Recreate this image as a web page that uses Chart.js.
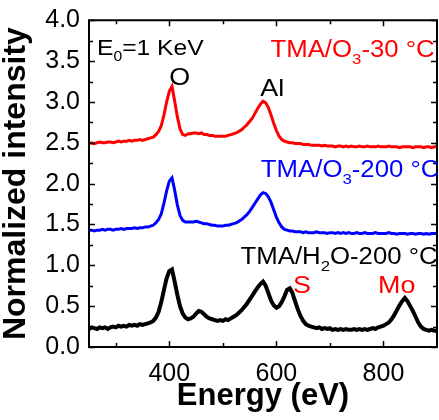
<!DOCTYPE html>
<html lang="en">
    <head>
        <meta charset="UTF-8" />
        <title>AES spectra</title>
        <script src="https://cdn.jsdelivr.net/npm/chart.js@4"></script>
        <style>
            html, body {
                margin: 0;
                padding: 0;
                background: #fff;
            }
            #chart {
                width: 439px;
                height: 420px;
            }
        </style>
    </head>
    <body>
        <div id="chart">
            <canvas id="myChart" width="439" height="420"></canvas>
        </div>
        <script>
            // Energy grid (eV)
            const energy = [
                250, 255, 260, 265, 270, 275, 280, 285, 290, 295,
                300, 305, 310, 315, 320, 325, 330, 335, 340, 345,
                350, 355, 360, 365, 370, 375, 380, 385, 390, 395,
                400, 405, 410, 415, 420, 425, 430, 435, 440, 445,
                450, 455, 460, 465, 470, 475, 480, 485, 490, 495,
                500, 505, 510, 515, 520, 525, 530, 535, 540, 545,
                550, 555, 560, 565, 570, 575, 580, 585, 590, 595,
                600, 605, 610, 615, 620, 625, 630, 635, 640, 645,
                650, 655, 660, 665, 670, 675, 680, 685, 690, 695,
                700, 705, 710, 715, 720, 725, 730, 735, 740, 745,
                750, 755, 760, 765, 770, 775, 780, 785, 790, 795,
                800, 805, 810, 815, 820, 825, 830, 835, 840, 845,
                850, 855, 860, 865, 870, 875, 880, 885, 890, 895,
                900,
            ];

            // TMA/O3-30 °C
            const o3Low = [
                2.49, 2.50, 2.49, 2.50, 2.51, 2.50, 2.50, 2.51, 2.51, 2.50,
                2.51, 2.52, 2.51, 2.52, 2.52, 2.53, 2.52, 2.53, 2.53, 2.54,
                2.53, 2.54, 2.55, 2.56, 2.57, 2.60, 2.64, 2.71, 2.84, 3.00,
                3.13, 3.19, 3.01, 2.82, 2.67, 2.60, 2.59, 2.61, 2.61, 2.62,
                2.62, 2.61, 2.62, 2.60, 2.60, 2.59, 2.59, 2.58, 2.58, 2.58,
                2.58, 2.58, 2.59, 2.60, 2.61, 2.62, 2.64, 2.66, 2.69, 2.72,
                2.76, 2.80, 2.86, 2.92, 2.97, 3.01, 2.99, 2.93, 2.84, 2.74,
                2.65, 2.58, 2.54, 2.52, 2.51, 2.50, 2.50, 2.49, 2.49, 2.49,
                2.48, 2.48, 2.48, 2.47, 2.47, 2.47, 2.47, 2.46, 2.47, 2.46,
                2.46, 2.46, 2.45, 2.46, 2.46, 2.45, 2.46, 2.45, 2.46, 2.45,
                2.45, 2.46, 2.45, 2.45, 2.46, 2.45, 2.45, 2.45, 2.46, 2.45,
                2.45, 2.45, 2.46, 2.45, 2.45, 2.45, 2.44, 2.45, 2.45, 2.45,
                2.45, 2.44, 2.45, 2.45, 2.45, 2.44, 2.45, 2.45, 2.44, 2.45,
                2.45,
            ];

            // TMA/O3-200 °C
            const o3High = [
                1.43, 1.43, 1.42, 1.43, 1.43, 1.44, 1.43, 1.44, 1.44, 1.43,
                1.44, 1.44, 1.45, 1.44, 1.45, 1.45, 1.45, 1.46, 1.45, 1.46,
                1.46, 1.47, 1.47, 1.48, 1.49, 1.52, 1.56, 1.63, 1.76, 1.91,
                2.03, 2.07, 1.92, 1.74, 1.61, 1.55, 1.53, 1.53, 1.53, 1.53,
                1.54, 1.53, 1.52, 1.51, 1.51, 1.50, 1.49, 1.49, 1.48, 1.48,
                1.48, 1.49, 1.49, 1.50, 1.51, 1.52, 1.54, 1.56, 1.59, 1.62,
                1.66, 1.71, 1.76, 1.81, 1.86, 1.89, 1.88, 1.84, 1.77, 1.68,
                1.59, 1.52, 1.47, 1.44, 1.43, 1.42, 1.42, 1.41, 1.41, 1.41,
                1.40, 1.41, 1.40, 1.40, 1.40, 1.41, 1.40, 1.40, 1.40, 1.39,
                1.40, 1.40, 1.39, 1.40, 1.39, 1.40, 1.39, 1.40, 1.39, 1.39,
                1.40, 1.39, 1.39, 1.40, 1.39, 1.39, 1.39, 1.40, 1.39, 1.39,
                1.39, 1.39, 1.40, 1.39, 1.39, 1.38, 1.39, 1.39, 1.39, 1.38,
                1.39, 1.39, 1.38, 1.39, 1.39, 1.38, 1.39, 1.38, 1.39, 1.39,
                1.39,
            ];

            // TMA/H2O-200 °C
            const h2o = [
                0.22, 0.24, 0.23, 0.22, 0.24, 0.23, 0.24, 0.22, 0.24, 0.25,
                0.24, 0.26, 0.25, 0.26, 0.25, 0.27, 0.26, 0.27, 0.26, 0.28,
                0.27, 0.28, 0.29, 0.30, 0.32, 0.36, 0.43, 0.55, 0.70, 0.84,
                0.93, 0.95, 0.80, 0.64, 0.50, 0.41, 0.36, 0.34, 0.35, 0.37,
                0.41, 0.44, 0.43, 0.40, 0.37, 0.35, 0.34, 0.33, 0.32, 0.33,
                0.32, 0.34, 0.33, 0.35, 0.37, 0.39, 0.42, 0.45, 0.49, 0.53,
                0.58, 0.63, 0.68, 0.73, 0.77, 0.80, 0.75, 0.66, 0.57, 0.51,
                0.48, 0.50, 0.55, 0.62, 0.70, 0.72, 0.66, 0.56, 0.46, 0.38,
                0.32, 0.28, 0.26, 0.25, 0.24, 0.23, 0.24, 0.22, 0.23, 0.22,
                0.23, 0.21, 0.22, 0.21, 0.22, 0.21, 0.22, 0.21, 0.21, 0.22,
                0.21, 0.22, 0.21, 0.22, 0.21, 0.22, 0.23, 0.22, 0.24, 0.25,
                0.26, 0.28, 0.30, 0.34, 0.39, 0.45, 0.51, 0.56, 0.60, 0.56,
                0.50, 0.44, 0.37, 0.30, 0.25, 0.22, 0.21, 0.20, 0.21, 0.20,
                0.20,
            ];

            // Axis ticks
            const xTicks = [300, 400, 500, 600, 700, 800];
            const xLabelled = [400, 600, 800];
            const yMinorTicks = [0.25, 0.75, 1.25, 1.75, 2.25, 2.75, 3.25, 3.75];

            const FONT = "'Liberation Sans', Arial, sans-serif";

            const toPoints = (ys) => energy.map((e, i) => ({ x: e, y: ys[i] }));

            // Frame with inward ticks on all four sides
            const framePlugin = {
                id: "frame",
                afterDatasetsDraw(chart) {
                    const { ctx, chartArea: a, scales } = chart;
                    const x = scales.x;
                    const y = scales.y;
                    ctx.save();
                    ctx.strokeStyle = "#000";
                    ctx.lineWidth = 2;
                    ctx.strokeRect(a.left, a.top, a.right - a.left, a.bottom - a.top);
                    ctx.beginPath();
                    xTicks.forEach((v) => {
                        const px = Math.round(x.getPixelForValue(v)) + 0.5;
                        const len = xLabelled.includes(v) ? 6 : 4;
                        ctx.moveTo(px, a.bottom);
                        ctx.lineTo(px, a.bottom - len);
                        ctx.moveTo(px, a.top);
                        ctx.lineTo(px, a.top + len);
                    });
                    const yAll = y.ticks.map((t) => t.value).concat(yMinorTicks);
                    yAll.forEach((v) => {
                        const py = Math.round(y.getPixelForValue(v)) + 0.5;
                        const len = yMinorTicks.includes(v) ? 4 : 6;
                        ctx.moveTo(a.left, py);
                        ctx.lineTo(a.left + len, py);
                        ctx.moveTo(a.right, py);
                        ctx.lineTo(a.right - len, py);
                    });
                    ctx.lineWidth = 1.5;
                    ctx.stroke();
                    ctx.restore();
                },
            };

            // Draws text with optional subscript parts, slightly stretched
            function drawRich(ctx, parts, px, py, size, color) {
                ctx.save();
                ctx.translate(px, py);
                ctx.scale(1.12, 1);
                ctx.fillStyle = color;
                ctx.textBaseline = "alphabetic";
                ctx.textAlign = "left";
                let cx = 0;
                parts.forEach((p) => {
                    const s = p.sub ? Math.round(size * 0.65) : size;
                    ctx.font = s + "px " + FONT;
                    ctx.fillText(p.t, cx, p.sub ? size * 0.3 : 0);
                    cx += ctx.measureText(p.t).width;
                });
                ctx.restore();
            }

            // Text labels placed in data coordinates
            const labels = [
                { x: 265, y: 3.58, size: 22, color: "#000", parts: [{ t: "E" }, { t: "0", sub: true }, { t: "=1 KeV" }] },
                { x: 400, y: 3.21, size: 24, color: "#000", parts: [{ t: "O" }] },
                { x: 570, y: 3.07, size: 24, color: "#000", parts: [{ t: "Al" }] },
                { x: 589, y: 3.55, size: 23, color: "#ff0000", parts: [{ t: "TMA/O" }, { t: "3", sub: true }, { t: "-30 °C" }] },
                { x: 571, y: 2.08, size: 23, color: "#0000ff", parts: [{ t: "TMA/O" }, { t: "3", sub: true }, { t: "-200 °C" }] },
                { x: 533, y: 1.01, size: 23, color: "#000", parts: [{ t: "TMA/H" }, { t: "2", sub: true }, { t: "O-200 °C" }] },
                { x: 631, y: 0.66, size: 24, color: "#ff0000", parts: [{ t: "S" }] },
                { x: 790, y: 0.66, size: 24, color: "#ff0000", parts: [{ t: "Mo" }] },
            ];

            const labelPlugin = {
                id: "labels",
                afterDraw(chart) {
                    const { ctx, scales } = chart;
                    labels.forEach((l) => {
                        drawRich(
                            ctx,
                            l.parts,
                            scales.x.getPixelForValue(l.x),
                            scales.y.getPixelForValue(l.y),
                            l.size,
                            l.color
                        );
                    });
                },
            };

            const ctx = document.getElementById("myChart").getContext("2d");
            const data = {
                datasets: [
                    {
                        label: "TMA/O3-30 °C",
                        data: toPoints(o3Low),
                        borderColor: "#ff0000",
                        borderWidth: 3,
                    },
                    {
                        label: "TMA/O3-200 °C",
                        data: toPoints(o3High),
                        borderColor: "#0000ff",
                        borderWidth: 3,
                    },
                    {
                        label: "TMA/H2O-200 °C",
                        data: toPoints(h2o),
                        borderColor: "#000000",
                        borderWidth: 4,
                    },
                ],
            };
            const config = {
                type: "line",
                data: data,
                options: {
                    responsive: false,
                    animation: false,
                    devicePixelRatio: 1,
                    layout: {
                        padding: { top: 12, right: 2, left: 0, bottom: 0 },
                    },
                    elements: {
                        point: { radius: 0 },
                        line: { tension: 0, fill: false },
                    },
                    plugins: {
                        legend: { display: false },
                        tooltip: { enabled: false },
                    },
                    scales: {
                        x: {
                            type: "linear",
                            min: 250,
                            max: 900,
                            grid: { display: false, drawTicks: false },
                            border: { display: false },
                            afterBuildTicks: (scale) => {
                                scale.ticks = xTicks.map((v) => ({ value: v }));
                            },
                            afterFit: (scale) => {
                                scale.height = 73;
                            },
                            ticks: {
                                autoSkip: false,
                                maxRotation: 0,
                                padding: 15,
                                color: "#000",
                                font: { family: FONT, size: 25, lineHeight: 1 },
                                callback: (v) => (xLabelled.includes(v) ? String(v) : ""),
                            },
                            title: {
                                display: true,
                                text: "Energy (eV)",
                                color: "#000",
                                font: { family: FONT, size: 31, weight: "bold", lineHeight: 1 },
                                padding: { top: 0, bottom: 8 },
                            },
                        },
                        y: {
                            type: "linear",
                            min: 0,
                            max: 4,
                            grid: { display: false, drawTicks: false },
                            border: { display: false },
                            afterFit: (scale) => {
                                scale.width = 89;
                            },
                            ticks: {
                                stepSize: 0.5,
                                padding: 9,
                                color: "#000",
                                font: { family: FONT, size: 25, lineHeight: 0.9 },
                                callback: (v) => v.toFixed(1),
                            },
                            title: {
                                display: true,
                                text: "Normalized intensity",
                                color: "#000",
                                font: { family: FONT, size: 32, weight: "bold", lineHeight: 1 },
                                padding: { top: 0, bottom: 0 },
                            },
                        },
                    },
                },
                plugins: [framePlugin, labelPlugin],
            };
            const myChart = new Chart(ctx, config);
        </script>
    </body>
</html>
